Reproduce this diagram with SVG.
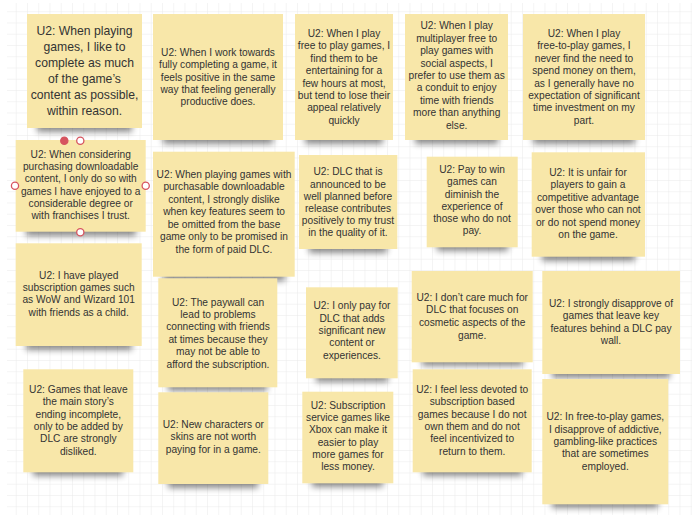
<svg xmlns="http://www.w3.org/2000/svg" width="692" height="520" viewBox="0 0 692 520">
<defs>
<pattern id="grid" width="11.25" height="11.25" patternUnits="userSpaceOnUse" x="4.5" y="0">
<path d="M 11.25 0 L 0 0 0 11.25" fill="none" stroke="#e8e8e8" stroke-width="0.9"/>
</pattern>
<filter id="sh" x="-20%" y="-100%" width="140%" height="300%">
<feGaussianBlur stdDeviation="3"/>
</filter>
</defs>
<style>
.note{fill:#f8e7a9;}
.shadow{fill:#000;opacity:0.45;filter:url(#sh);}
text{font-family:"Liberation Sans",Arial,sans-serif;fill:#333;text-anchor:middle;font-size:10.2px;}
text.big{font-size:12.2px;}
.h{fill:#fff;stroke:#d6545f;stroke-width:1.3;}
.hf{fill:#d6545f;stroke:#d6545f;stroke-width:1.3;}
</style>
<rect width="692" height="520" fill="#fff"/>
<rect x="7" y="3" width="685" height="512" fill="url(#grid)"/>

<g id="n1">
<rect class="shadow" x="37" y="120" width="95" height="12"/>
<rect class="note" x="27" y="14" width="115" height="114"/>
<text class="big" x="84.5" y="35"><tspan x="84.5">U2: When playing</tspan><tspan x="84.5" dy="16">games, I like to</tspan><tspan x="84.5" dy="16">complete as much</tspan><tspan x="84.5" dy="16">of the game’s</tspan><tspan x="84.5" dy="16">content as possible,</tspan><tspan x="84.5" dy="16">within reason.</tspan></text>
</g>

<g id="n2">
<rect class="shadow" x="163" y="132" width="110" height="12"/>
<rect class="note" x="153" y="14" width="130" height="126"/>
<text x="218" y="55.9"><tspan x="218">U2: When I work towards</tspan><tspan x="218" dy="12.35">fully completing a game, it</tspan><tspan x="218" dy="12.35">feels positive in the same</tspan><tspan x="218" dy="12.35">way that feeling generally</tspan><tspan x="218" dy="12.35">productive does.</tspan></text>
</g>

<g id="n3">
<rect class="shadow" x="305" y="132" width="78" height="12"/>
<rect class="note" x="295" y="14" width="98" height="126"/>
<text x="344" y="36.9"><tspan x="344">U2: When I play</tspan><tspan x="344" dy="12.4">free to play games, I</tspan><tspan x="344" dy="12.4">find them to be</tspan><tspan x="344" dy="12.4">entertaining for a</tspan><tspan x="344" dy="12.4">few hours at most,</tspan><tspan x="344" dy="12.4">but tend to lose their</tspan><tspan x="344" dy="12.4">appeal relatively</tspan><tspan x="344" dy="12.4">quickly</tspan></text>
</g>

<g id="n4">
<rect class="shadow" x="415" y="132" width="83" height="12"/>
<rect class="note" x="405" y="14" width="103" height="126"/>
<text x="456.7" y="29.3"><tspan x="456.7">U2: When I play</tspan><tspan x="456.7" dy="12.4">multiplayer free to</tspan><tspan x="456.7" dy="12.4">play games with</tspan><tspan x="456.7" dy="12.4">social aspects, I</tspan><tspan x="456.7" dy="12.4">prefer to use them as</tspan><tspan x="456.7" dy="12.4">a conduit to enjoy</tspan><tspan x="456.7" dy="12.4">time with friends</tspan><tspan x="456.7" dy="12.4">more than anything</tspan><tspan x="456.7" dy="12.4">else.</tspan></text>
</g>

<g id="n5">
<rect class="shadow" x="533" y="132" width="102" height="12"/>
<rect class="note" x="523" y="14" width="122" height="126"/>
<text x="584" y="36.9"><tspan x="584">U2: When I play</tspan><tspan x="584" dy="12.4">free-to-play games, I</tspan><tspan x="584" dy="12.4">never find the need to</tspan><tspan x="584" dy="12.4">spend money on them,</tspan><tspan x="584" dy="12.4">as I generally have no</tspan><tspan x="584" dy="12.4">expectation of significant</tspan><tspan x="584" dy="12.4">time investment on my</tspan><tspan x="584" dy="12.4">part.</tspan></text>
</g>

<g id="n6">
<rect class="shadow" x="26" y="224" width="110" height="12"/>
<rect class="note" x="15.7" y="140" width="130" height="91.7"/>
<text x="80.7" y="157.6"><tspan x="80.7">U2: When considering</tspan><tspan x="80.7" dy="12.35">purchasing downloadable</tspan><tspan x="80.7" dy="12.35">content, I only do so with</tspan><tspan x="80.7" dy="12.35">games I have enjoyed to a</tspan><tspan x="80.7" dy="12.35">considerable degree or</tspan><tspan x="80.7" dy="12.35">with franchises I trust.</tspan></text>
</g>

<g id="n7">
<rect class="shadow" x="163" y="269" width="122" height="12"/>
<rect class="note" x="153" y="151.7" width="141.7" height="125"/>
<text x="224" y="177.9"><tspan x="224">U2: When playing games with</tspan><tspan x="224" dy="12.5">purchasable downloadable</tspan><tspan x="224" dy="12.5">content, I strongly dislike</tspan><tspan x="224" dy="12.5">when key features seem to</tspan><tspan x="224" dy="12.5">be omitted from the base</tspan><tspan x="224" dy="12.5">game only to be promised in</tspan><tspan x="224" dy="12.5">the form of paid DLC.</tspan></text>
</g>

<g id="n8">
<rect class="shadow" x="309" y="241" width="78" height="12"/>
<rect class="note" x="299" y="155" width="98.3" height="94"/>
<text x="348" y="175.3"><tspan x="348">U2: DLC that is</tspan><tspan x="348" dy="12.2">announced to be</tspan><tspan x="348" dy="12.2">well planned before</tspan><tspan x="348" dy="12.2">release contributes</tspan><tspan x="348" dy="12.2">positively to my trust</tspan><tspan x="348" dy="12.2">in the quality of it.</tspan></text>
</g>

<g id="n9">
<rect class="shadow" x="437" y="239" width="71" height="12"/>
<rect class="note" x="426.7" y="156.7" width="91" height="90.6"/>
<text x="472" y="172.9"><tspan x="472">U2: Pay to win</tspan><tspan x="472" dy="12.3">games can</tspan><tspan x="472" dy="12.3">diminish the</tspan><tspan x="472" dy="12.3">experience of</tspan><tspan x="472" dy="12.3">those who do not</tspan><tspan x="472" dy="12.3">pay.</tspan></text>
</g>

<g id="n10">
<rect class="shadow" x="542" y="249" width="93" height="12"/>
<rect class="note" x="531.7" y="152.3" width="113.3" height="104.4"/>
<text x="588" y="175.9"><tspan x="588">U2: It is unfair for</tspan><tspan x="588" dy="12.4">players to gain a</tspan><tspan x="588" dy="12.4">competitive advantage</tspan><tspan x="588" dy="12.4">over those who can not</tspan><tspan x="588" dy="12.4">or do not spend money</tspan><tspan x="588" dy="12.4">on the game.</tspan></text>
</g>

<g id="n11">
<rect class="shadow" x="26" y="338" width="106" height="12"/>
<rect class="note" x="15.7" y="243.3" width="126" height="102.7"/>
<text x="78.7" y="278.6"><tspan x="78.7">U2: I have played</tspan><tspan x="78.7" dy="12.4">subscription games such</tspan><tspan x="78.7" dy="12.4">as WoW and Wizard 101</tspan><tspan x="78.7" dy="12.4">with friends as a child.</tspan></text>
</g>

<g id="n12">
<rect class="shadow" x="168" y="379" width="99" height="12"/>
<rect class="note" x="158.3" y="278.3" width="119" height="109"/>
<text x="218" y="305.6"><tspan x="218">U2: The paywall can</tspan><tspan x="218" dy="12.4">lead to problems</tspan><tspan x="218" dy="12.4">connecting with friends</tspan><tspan x="218" dy="12.4">at times because they</tspan><tspan x="218" dy="12.4">may not be able to</tspan><tspan x="218" dy="12.4">afford the subscription.</tspan></text>
</g>

<g id="n13">
<rect class="shadow" x="33" y="464" width="90" height="12"/>
<rect class="note" x="23.3" y="369.3" width="110" height="103"/>
<text x="78.3" y="392.9"><tspan x="78.3">U2: Games that leave</tspan><tspan x="78.3" dy="12.35">the main story’s</tspan><tspan x="78.3" dy="12.35">ending incomplete,</tspan><tspan x="78.3" dy="12.35">only to be added by</tspan><tspan x="78.3" dy="12.35">DLC are strongly</tspan><tspan x="78.3" dy="12.35">disliked.</tspan></text>
</g>

<g id="n14">
<rect class="shadow" x="168" y="476" width="90" height="12"/>
<rect class="note" x="158.3" y="392.3" width="110" height="91.7"/>
<text x="213.3" y="427.6"><tspan x="213.3">U2: New characters or</tspan><tspan x="213.3" dy="12.65">skins are not worth</tspan><tspan x="213.3" dy="12.65">paying for in a game.</tspan></text>
</g>

<g id="n15">
<rect class="shadow" x="316" y="370" width="72" height="12"/>
<rect class="note" x="306" y="287.3" width="91.7" height="91"/>
<text x="352" y="309.3"><tspan x="352">U2: I only pay for</tspan><tspan x="352" dy="12.35">DLC that adds</tspan><tspan x="352" dy="12.35">significant new</tspan><tspan x="352" dy="12.35">content or</tspan><tspan x="352" dy="12.35">experiences.</tspan></text>
</g>

<g id="n16">
<rect class="shadow" x="422" y="354" width="101" height="12"/>
<rect class="note" x="411.7" y="271" width="121" height="91.3"/>
<text x="472.2" y="300.9"><tspan x="472.2">U2: I don’t care much for</tspan><tspan x="472.2" dy="12.55">DLC that focuses on</tspan><tspan x="472.2" dy="12.55">cosmetic aspects of the</tspan><tspan x="472.2" dy="12.55">game.</tspan></text>
</g>

<g id="n17">
<rect class="shadow" x="552" y="366" width="118" height="12"/>
<rect class="note" x="542.3" y="271" width="137.7" height="103"/>
<text x="611" y="306.9"><tspan x="611">U2: I strongly disapprove of</tspan><tspan x="611" dy="12.45">games that leave key</tspan><tspan x="611" dy="12.45">features behind a DLC pay</tspan><tspan x="611" dy="12.45">wall.</tspan></text>
</g>

<g id="n18">
<rect class="shadow" x="312" y="475" width="71" height="12"/>
<rect class="note" x="302.3" y="391.7" width="91" height="91.6"/>
<text x="348" y="408.6"><tspan x="348">U2: Subscription</tspan><tspan x="348" dy="12.35">service games like</tspan><tspan x="348" dy="12.35">Xbox can make it</tspan><tspan x="348" dy="12.35">easier to play</tspan><tspan x="348" dy="12.35">more games for</tspan><tspan x="348" dy="12.35">less money.</tspan></text>
</g>

<g id="n19">
<rect class="shadow" x="423" y="464" width="99" height="12"/>
<rect class="note" x="412.7" y="369.3" width="119" height="103"/>
<text x="472.2" y="392.9"><tspan x="472.2">U2: I feel less devoted to</tspan><tspan x="472.2" dy="12.35">subscription based</tspan><tspan x="472.2" dy="12.35">games because I do not</tspan><tspan x="472.2" dy="12.35">own them and do not</tspan><tspan x="472.2" dy="12.35">feel incentivized to</tspan><tspan x="472.2" dy="12.35">return to them.</tspan></text>
</g>

<g id="n20">
<rect class="shadow" x="552" y="496" width="106" height="12"/>
<rect class="note" x="542.3" y="379" width="126" height="125.3"/>
<text x="605.3" y="420.3"><tspan x="605.3">U2: In free-to-play games,</tspan><tspan x="605.3" dy="12.3">I disapprove of addictive,</tspan><tspan x="605.3" dy="12.3">gambling-like practices</tspan><tspan x="605.3" dy="12.3">that are sometimes</tspan><tspan x="605.3" dy="12.3">employed.</tspan></text>
</g>

<g id="selection-handles">
<circle class="hf" cx="64.3" cy="140.7" r="3.6"/>
<circle class="h" cx="80.3" cy="140.7" r="3.6"/>
<circle class="h" cx="15" cy="185.7" r="3.6"/>
<circle class="h" cx="145.7" cy="185.7" r="3.6"/>
<circle class="h" cx="80.3" cy="232.3" r="3.6"/>
</g>

<g id="connectors"/>
</svg>
